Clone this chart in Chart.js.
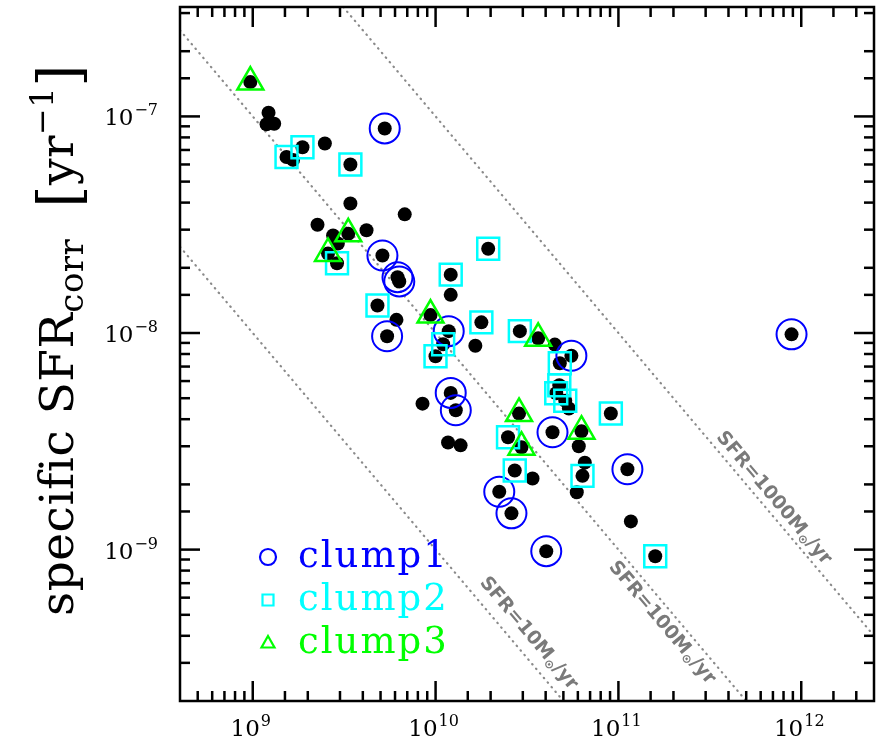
<!DOCTYPE html>
<html>
<head>
<meta charset="utf-8">
<script src="https://cdn.jsdelivr.net/npm/chart.js@4.4.0/dist/chart.umd.min.js"></script>
<style>
  html, body { margin: 0; padding: 0; background: #fff; }
  canvas { display: block; }
</style>
</head>
<body>
<canvas id="grafico" width="880" height="743"></canvas>
<script>
// masa estelar [Msun] y SFR especifica [1/yr] de cada galaxia (puntos negros)
const masaGalaxias = [
  9.7e8, 1.22e9, 1.19e9, 1.31e9, 1.87e9, 1.53e9, 1.66e9, 2.48e9, 3.42e9, 5.27e9,
  3.42e9, 6.78e9, 2.26e9, 4.19e9, 2.75e9, 3.33e9, 2.92e9, 2.58e9, 2.89e9, 5.12e9,
  6.19e9, 6.33e9, 4.81e9, 6.11e9, 5.43e9, 1.21e10, 1.21e10, 1.94e10, 9.38e9, 1.18e10,
  1.10e10, 9.99e9, 1.78e10, 1.65e10, 1.21e10, 1.29e10, 8.48e9, 1.17e10, 1.37e10, 2.89e10,
  3.64e10, 4.49e10, 5.53e10, 4.78e10, 4.75e10, 4.57e10, 5.12e10, 5.36e10, 9.09e10, 2.86e10,
  4.36e10, 6.28e10, 6.07e10, 2.49e10, 2.95e10, 6.55e10, 2.71e10, 3.39e10, 6.36e10, 1.12e11,
  5.92e10, 2.23e10, 2.60e10, 1.17e11, 4.03e10, 1.59e11, 8.85e11
];
const ssfrGalaxias = [
  1.44e-7, 1.04e-7, 9.2e-8, 9.25e-8, 7.2e-8, 6.5e-8, 6.3e-8, 7.5e-8, 6.0e-8, 8.8e-8,
  3.96e-8, 3.53e-8, 3.16e-8, 2.98e-8, 2.82e-8, 2.87e-8, 2.59e-8, 2.33e-8, 2.10e-8, 2.28e-8,
  1.81e-8, 1.73e-8, 1.34e-8, 1.15e-8, 9.66e-9, 1.86e-8, 1.50e-8, 2.45e-8, 1.21e-8, 1.02e-8,
  8.87e-9, 7.81e-9, 1.12e-8, 8.73e-9, 5.29e-9, 4.40e-9, 4.72e-9, 3.12e-9, 3.03e-9, 1.02e-8,
  9.45e-9, 8.84e-9, 7.85e-9, 7.25e-9, 5.74e-9, 5.27e-9, 4.87e-9, 4.48e-9, 4.25e-9, 4.25e-9,
  3.48e-9, 3.52e-9, 3.00e-9, 3.30e-9, 2.97e-9, 2.52e-9, 2.32e-9, 2.13e-9, 2.19e-9, 2.35e-9,
  1.84e-9, 1.85e-9, 1.47e-9, 1.35e-9, 9.83e-10, 9.32e-10, 9.86e-9
];

// galaxias marcadas como clump1 (circulos)
const masaClump1 = [5.27e9, 5.12e9, 6.19e9, 6.33e9, 5.43e9, 1.18e10, 1.21e10, 1.29e10, 5.53e10, 4.36e10, 1.12e11, 2.23e10, 2.60e10, 4.03e10, 8.85e11];
const ssfrClump1 = [8.8e-8, 2.28e-8, 1.81e-8, 1.73e-8, 9.66e-9, 1.02e-8, 5.29e-9, 4.40e-9, 7.85e-9, 3.48e-9, 2.35e-9, 1.85e-9, 1.47e-9, 9.83e-10, 9.86e-9];

// clump2 (cuadrados)
const masaClump2 = [1.87e9, 1.53e9, 3.42e9, 2.89e9, 4.81e9, 1.21e10, 1.94e10, 1.10e10, 9.99e9, 1.78e10,
  2.89e10, 4.78e10, 4.75e10, 4.57e10, 5.12e10, 9.09e10, 2.49e10, 2.71e10, 6.36e10, 1.59e11];
const ssfrClump2 = [7.2e-8, 6.5e-8, 6.0e-8, 2.10e-8, 1.34e-8, 1.86e-8, 2.45e-8, 8.87e-9, 7.81e-9, 1.12e-8,
  1.02e-8, 7.25e-9, 5.74e-9, 5.27e-9, 4.87e-9, 4.25e-9, 3.30e-9, 2.32e-9, 2.19e-9, 9.32e-10];

// clump3 (triangulos)
const masaClump3 = [9.7e8, 3.33e9, 2.58e9, 9.38e9, 3.64e10, 2.86e10, 6.28e10, 2.95e10];
const ssfrClump3 = [1.44e-7, 2.87e-8, 2.33e-8, 1.21e-8, 9.45e-9, 4.25e-9, 3.52e-9, 2.97e-9];

// lineas de SFR constante: extremos [masa, ssfr]
const lineaSFR10 = [[4e8, 2.5e-8], [5e10, 2e-10]];
const lineaSFR100 = [[4e8, 2.5e-7], [5e11, 2e-10]];
const lineaSFR1000 = [[3.125e9, 3.2e-7], [2.5e12, 4e-10]];

// rotulos de las lineas: texto, punto de anclaje [masa, ssfr] y lado
const rotulosSFR = [
  { valor: '10', linea: lineaSFR10, ancla: [2.74e10, 3.65e-10], lado: -17 },
  { valor: '100', linea: lineaSFR100, ancla: [1.98e11, 5.05e-10], lado: 14 },
  { valor: '1000', linea: lineaSFR1000, ancla: [6.3e11, 1.59e-9], lado: -12 }
];

// etiquetas de los ejes (10^n)
const xMayores = [1e9, 1e10, 1e11, 1e12];
const xExponentes = ['9', '10', '11', '12'];
const yMayores = [1e-9, 1e-8, 1e-7];
const yExponentes = ['\u22129', '\u22128', '\u22127'];

const leyenda = [
  { texto: 'clump1', color: '#0000ff', forma: 'circle' },
  { texto: 'clump2', color: '#00ffff', forma: 'rect' },
  { texto: 'clump3', color: '#00ff00', forma: 'triangle' }
];

const azul = '#0000ff', cian = '#00ffff', verde = '#00ff00';
const serif = '"DejaVu Serif", serif';

const pares = (xs, ys) => xs.map((v, i) => ({ x: v, y: ys[i] }));
const esMayor = v => Math.abs(Math.log10(v) - Math.round(Math.log10(v))) < 1e-6;

function linea(ctx, x1, y1, x2, y2) {
  ctx.beginPath();
  ctx.moveTo(x1, y1);
  ctx.lineTo(x2, y2);
  ctx.stroke();
}

function potencia(ctx, exp, xRef, yBase, alinear) {
  ctx.font = '23px ' + serif;
  const wBase = ctx.measureText('10').width;
  ctx.font = '16px ' + serif;
  const wExp = ctx.measureText(exp).width;
  const total = wBase + 1 + wExp;
  let x0 = alinear === 'centro' ? xRef - total / 2 : xRef - total;
  ctx.textAlign = 'left';
  ctx.textBaseline = 'alphabetic';
  ctx.font = '23px ' + serif;
  ctx.fillText('10', x0, yBase);
  ctx.font = '16px ' + serif;
  ctx.fillText(exp, x0 + wBase + 1, yBase - 10);
}

const marcoYEjes = {
  id: 'marcoYEjes',
  afterDraw(chart) {
    const { ctx, chartArea: a, scales: { x, y } } = chart;
    ctx.save();
    ctx.strokeStyle = '#000';
    ctx.fillStyle = '#000';
    ctx.lineWidth = 2.5;
    ctx.strokeRect(a.left, a.top, a.right - a.left, a.bottom - a.top);

    x.ticks.forEach(t => {
      const px = x.getPixelForValue(t.value);
      if (px <= a.left + 1 || px >= a.right - 1) return;
      const largo = esMayor(t.value) ? 20 : 10;
      linea(ctx, px, a.bottom, px, a.bottom - largo);
      linea(ctx, px, a.top, px, a.top + largo);
    });
    y.ticks.forEach(t => {
      const py = y.getPixelForValue(t.value);
      if (py <= a.top + 1 || py >= a.bottom - 1) return;
      const largo = esMayor(t.value) ? 20 : 10;
      linea(ctx, a.left, py, a.left + largo, py);
      linea(ctx, a.right, py, a.right - largo, py);
    });

    xMayores.forEach((v, i) => potencia(ctx, xExponentes[i], x.getPixelForValue(v) - 2, 736, 'centro'));
    yMayores.forEach((v, i) => potencia(ctx, yExponentes[i], a.left - 22, y.getPixelForValue(v) + 9, 'derecha'));

    // titulo del eje y
    const partes = [
      { t: 'specific SFR', f: '47px ' + serif, dy: 0 },
      { t: 'corr', f: '34px ' + serif, dy: 10 },
      { t: '  ', f: '47px ' + serif, dy: 0 },
      { t: '[', f: '57px ' + serif, dy: 6 },
      { t: 'yr', f: '47px ' + serif, dy: 0 },
      { t: '\u22121', f: '32px ' + serif, dy: -20 },
      { t: ']', f: '57px ' + serif, dy: 6 }
    ];
    ctx.letterSpacing = '0.5px';
    let total = 0;
    partes.forEach(p => { ctx.font = p.f; p.w = ctx.measureText(p.t).width; total += p.w; });
    ctx.save();
    ctx.translate(73, 340);
    ctx.rotate(-Math.PI / 2);
    let cx = -total / 2;
    ctx.textAlign = 'left';
    partes.forEach(p => { ctx.font = p.f; ctx.fillText(p.t, cx, p.dy); cx += p.w; });
    ctx.restore();
    ctx.letterSpacing = '0px';

    // rotulos SFR = ... Msun/yr
    ctx.fillStyle = '#7a7a7a';
    rotulosSFR.forEach(r => {
      const p1 = { x: x.getPixelForValue(r.linea[0][0]), y: y.getPixelForValue(r.linea[0][1]) };
      const p2 = { x: x.getPixelForValue(r.linea[1][0]), y: y.getPixelForValue(r.linea[1][1]) };
      const ang = Math.atan2(p2.y - p1.y, p2.x - p1.x);
      const ax = x.getPixelForValue(r.ancla[0]);
      const ay = y.getPixelForValue(r.ancla[1]);
      const trozos = [
        { t: 'SFR=' + r.valor + 'M', f: 'bold 19px "DejaVu Sans"', dy: 0 },
        { t: '\u2299', f: 'bold 12px "DejaVu Sans"', dy: 5 },
        { t: '/yr', f: 'bold 19px "DejaVu Sans"', dy: 0 }
      ];
      let w = 0;
      trozos.forEach(p => { ctx.font = p.f; p.w = ctx.measureText(p.t).width; w += p.w; });
      ctx.save();
      ctx.translate(ax - Math.sin(ang) * r.lado, ay + Math.cos(ang) * r.lado);
      ctx.rotate(ang);
      let tx = -w / 2;
      ctx.textBaseline = 'middle';
      trozos.forEach(p => { ctx.font = p.f; ctx.fillText(p.t, tx, p.dy); tx += p.w; });
      ctx.restore();
    });

    // leyenda
    ctx.lineWidth = 2.2;
    ctx.textBaseline = 'alphabetic';
    leyenda.forEach((l, i) => {
      const base = 567 + i * 43;
      const mx = 268, my = base - 10;
      ctx.strokeStyle = l.color;
      ctx.beginPath();
      if (l.forma === 'circle') ctx.arc(mx, my, 8, 0, Math.PI * 2);
      if (l.forma === 'rect') ctx.rect(mx - 5.5, my - 5.5, 11, 11);
      if (l.forma === 'triangle') { ctx.moveTo(mx, my - 7); ctx.lineTo(mx + 6.5, my + 4.5); ctx.lineTo(mx - 6.5, my + 4.5); ctx.closePath(); }
      ctx.stroke();
      ctx.fillStyle = l.color;
      ctx.font = '37px ' + serif;
      ctx.letterSpacing = '2px';
      ctx.fillText(l.texto, 298, base);
      ctx.letterSpacing = '0px';
    });
    ctx.restore();
  }
};

const lineaPunteada = (puntos) => ({
  data: puntos.map(p => ({ x: p[0], y: p[1] })),
  showLine: true,
  pointRadius: 0,
  borderColor: '#8a8a8a',
  borderWidth: 2.2,
  borderDash: [0.5, 5.5],
  borderCapStyle: 'round',
  order: 10
});

const ctx = document.getElementById('grafico').getContext('2d');
new Chart(ctx, {
  type: 'scatter',
  data: {
    datasets: [
      lineaPunteada(lineaSFR10),
      lineaPunteada(lineaSFR100),
      lineaPunteada(lineaSFR1000),
      {
        label: 'galaxias',
        data: pares(masaGalaxias, ssfrGalaxias),
        pointRadius: 7,
        backgroundColor: '#000',
        borderWidth: 0,
        order: 5
      },
      {
        label: 'clump1',
        data: pares(masaClump1, ssfrClump1),
        pointStyle: 'circle',
        pointRadius: 15,
        backgroundColor: 'rgba(0,0,0,0)',
        borderColor: azul,
        borderWidth: 2,
        order: 3
      },
      {
        label: 'clump2',
        data: pares(masaClump2, ssfrClump2),
        pointStyle: 'rect',
        pointRadius: 15.5,
        backgroundColor: 'rgba(0,0,0,0)',
        borderColor: cian,
        borderWidth: 2.5,
        order: 2
      },
      {
        label: 'clump3',
        data: pares(masaClump3, ssfrClump3),
        pointStyle: 'triangle',
        pointRadius: 15,
        backgroundColor: 'rgba(0,0,0,0)',
        borderColor: verde,
        borderWidth: 2.5,
        order: 1
      }
    ]
  },
  options: {
    responsive: false,
    animation: false,
    devicePixelRatio: 1,
    events: [],
    layout: { autoPadding: false, padding: { top: 7, right: 6, left: 0, bottom: 0 } },
    plugins: { legend: { display: false }, tooltip: { enabled: false } },
    scales: {
      x: {
        type: 'logarithmic',
        min: 4e8,
        max: 2.5e12,
        grid: { display: false },
        border: { display: false },
        ticks: { display: false },
        afterFit(s) { s.height = 42; }
      },
      y: {
        type: 'logarithmic',
        min: 2e-10,
        max: 3.2e-7,
        grid: { display: false },
        border: { display: false },
        ticks: { display: false },
        afterFit(s) { s.width = 180; }
      }
    }
  },
  plugins: [marcoYEjes]
});
</script>
</body>
</html>
